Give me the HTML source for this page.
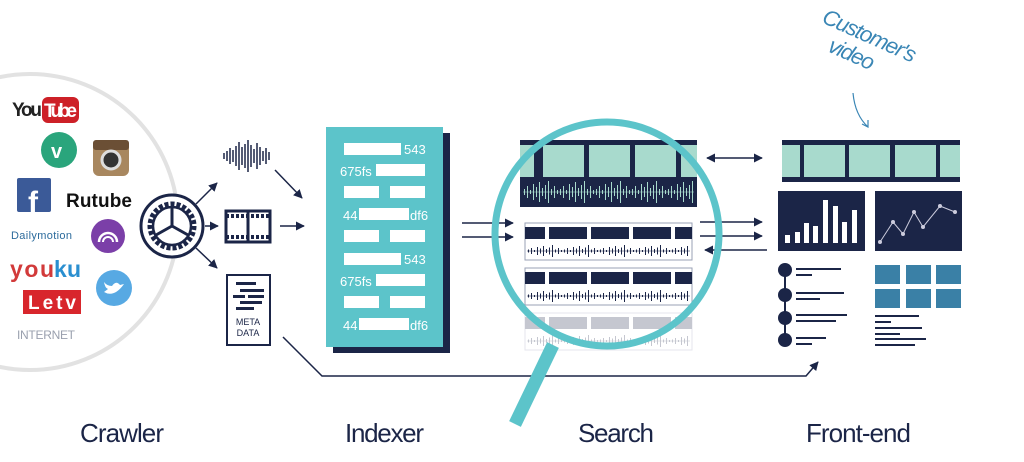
<!DOCTYPE html>
<html><head><meta charset="utf-8"><style>
html,body{margin:0;padding:0;background:#fff;}
svg{display:block;}
text{font-family:"Liberation Sans",sans-serif;}
</style></head><body>
<svg width="1024" height="462" viewBox="0 0 1024 462" xmlns="http://www.w3.org/2000/svg">
<defs>
<marker id="ah" viewBox="0 0 10 10" refX="9" refY="5" markerWidth="6" markerHeight="6" orient="auto-start-reverse"><path d="M0,0 L10,5 L0,10 z" fill="#1b2547"/></marker>
<pattern id="pa" patternUnits="userSpaceOnUse" x="523" y="180" width="36" height="24">
<line x1="0" y1="12" x2="36" y2="12" stroke="#a8dacd" stroke-width="0.6"/>
<path d="M1.5 9v6 M4.5 6v12 M7.5 10v4 M10.5 4v16 M13.5 7v10 M16.5 2v20 M19.5 8v8 M22.5 5v14 M25.5 1v22 M28.5 9v6 M31.5 6v12 M34.5 10v4" stroke="#a8dacd" stroke-width="1"/>
</pattern>
<pattern id="pb" patternUnits="userSpaceOnUse" x="527" y="243" width="36" height="16">
<line x1="0" y1="8" x2="36" y2="8" stroke="#1b2547" stroke-width="0.6"/>
<path d="M1.5 6.5v3 M4.5 5v6 M7.5 7v2 M10.5 4v8 M13.5 5.5v5 M16.5 3v10 M19.5 6v4 M22.5 4.5v7 M25.5 2v12 M28.5 6.5v3 M31.5 5v6 M34.5 7v2" stroke="#1b2547" stroke-width="1"/>
</pattern>
<pattern id="pc" patternUnits="userSpaceOnUse" x="527" y="288" width="36" height="16">
<line x1="0" y1="8" x2="36" y2="8" stroke="#1b2547" stroke-width="0.6"/>
<path d="M1.5 6.5v3 M4.5 5v6 M7.5 7v2 M10.5 4v8 M13.5 5.5v5 M16.5 3v10 M19.5 6v4 M22.5 4.5v7 M25.5 2v12 M28.5 6.5v3 M31.5 5v6 M34.5 7v2" stroke="#1b2547" stroke-width="1"/>
</pattern>
<pattern id="pd" patternUnits="userSpaceOnUse" x="527" y="333" width="36" height="16">
<line x1="0" y1="8" x2="36" y2="8" stroke="#1b2547" stroke-width="0.6"/>
<path d="M1.5 6.5v3 M4.5 5v6 M7.5 7v2 M10.5 4v8 M13.5 5.5v5 M16.5 3v10 M19.5 6v4 M22.5 4.5v7 M25.5 2v12 M28.5 6.5v3 M31.5 5v6 M34.5 7v2" stroke="#1b2547" stroke-width="1"/>
</pattern>
</defs>
<!-- internet circle -->
<circle cx="30" cy="222" r="148" fill="none" stroke="#e2e2e2" stroke-width="4"/>
<!-- logos -->
<text x="12" y="116" font-size="19" font-weight="bold" fill="#222" textLength="30">You</text>
<rect x="42" y="97" width="37" height="26" rx="6" fill="#cd2027"/>
<text x="44" y="117" font-size="19" font-weight="bold" fill="#fff" textLength="33">Tube</text>
<circle cx="59" cy="150" r="18" fill="#2aa57c"/><text x="51" y="158" font-size="20" font-weight="bold" fill="#fff">v</text>
<rect x="93" y="140" width="36" height="36" rx="6" fill="#a8875f"/><rect x="93" y="140" width="36" height="10" rx="3" fill="#6b4f35"/><circle cx="111" cy="160" r="9" fill="#333" stroke="#ddd" stroke-width="3"/>
<rect x="17" y="178" width="34" height="34" rx="2" fill="#3b5a98"/><text x="28" y="212" font-size="30" font-weight="bold" fill="#fff">f</text>
<text x="66" y="207" font-size="19" font-weight="bold" fill="#111" textLength="66">Rutube</text>
<text x="11" y="239" font-size="11" fill="#2c6b9c" textLength="61">Dailymotion</text>
<circle cx="108" cy="236" r="17" fill="#7b3fa8"/><path d="M99,242 a9,9 0 1 1 18,0" fill="none" stroke="#fff" stroke-width="2.5"/><path d="M103,242 a5,5 0 1 1 10,0" fill="none" stroke="#fff" stroke-width="2"/>
<text x="10" y="277" font-size="23" font-weight="bold" fill="#d23a3a" textLength="44">you</text><text x="54" y="277" font-size="23" font-weight="bold" fill="#2a8fd0" textLength="27">ku</text>
<circle cx="114" cy="288" r="18" fill="#57a9e3"/><path d="M104,292 q10,6 20,-8 l-4,1 q-4,-5 -8,1 q-5,0 -8,-4 q1,6 4,7 z" fill="#fff"/>
<rect x="23" y="290" width="58" height="24" fill="#d8262c"/><text x="28" y="309" font-size="19" font-weight="bold" fill="#fff" textLength="48">Letv</text>
<text x="17" y="339" font-size="12" fill="#9aa0ae" textLength="58">INTERNET</text>
<!-- gear -->
<circle cx="172" cy="226" r="31" fill="#fff" stroke="#1b2547" stroke-width="3"/>
<circle cx="172" cy="226" r="22" fill="none" stroke="#1b2547" stroke-width="5" stroke-dasharray="4 2"/>
<circle cx="172" cy="226" r="19" fill="none" stroke="#1b2547" stroke-width="2.5"/>
<path d="M172,226 L172,208 M172,226 L188,235 M172,226 L156,235" stroke="#1b2547" stroke-width="3"/>
<g stroke="#1b2547" stroke-width="1.5" fill="none" marker-end="url(#ah)">
<line x1="196" y1="204" x2="217" y2="183"/>
<line x1="205" y1="226" x2="218" y2="226"/>
<line x1="196" y1="248" x2="217" y2="268"/>
<line x1="275" y1="170" x2="302" y2="198"/>
<line x1="280" y1="226" x2="304" y2="226"/>
<polyline points="283,337 322,376 806,376 818,362"/>
<line x1="462" y1="223" x2="513" y2="223"/>
<line x1="462" y1="237" x2="513" y2="237"/>
<line x1="700" y1="222" x2="762" y2="222"/>
<line x1="700" y1="236" x2="762" y2="236"/>
<line x1="767" y1="250" x2="705" y2="250"/>
<line x1="707" y1="158" x2="762" y2="158" marker-start="url(#ah)"/>
</g>
<!-- audio icon -->
<path d="M224 153v6 M227 151v10 M230 148v16 M233 150v12 M236 146v20 M239 142v28 M242 147v18 M245 144v24 M248 140v32 M251 145v22 M254 149v14 M257 143v26 M260 147v18 M263 151v10 M266 148v16 M269 152v8" stroke="#1b2547" stroke-width="1.5"/>
<!-- film icon -->
<rect x="226" y="211" width="44" height="31" fill="none" stroke="#1b2547" stroke-width="3"/>
<line x1="226" y1="216" x2="270" y2="216" stroke="#1b2547" stroke-width="4" stroke-dasharray="3 2"/>
<line x1="226" y1="237" x2="270" y2="237" stroke="#1b2547" stroke-width="4" stroke-dasharray="3 2"/>
<line x1="248" y1="211" x2="248" y2="242" stroke="#1b2547" stroke-width="3"/>
<!-- metadata doc -->
<rect x="227" y="275" width="43" height="70" fill="#fff" stroke="#1b2547" stroke-width="2"/>
<g fill="#1b2547"><rect x="236" y="282" width="20" height="3"/><rect x="240" y="289" width="24" height="3"/><rect x="233" y="295" width="12" height="3"/><rect x="248" y="295" width="16" height="3"/><rect x="240" y="301" width="22" height="3"/><rect x="236" y="307" width="18" height="3"/></g>
<text x="248" y="325" font-size="9" fill="#1b2547" text-anchor="middle">META</text>
<text x="248" y="336" font-size="9" fill="#1b2547" text-anchor="middle">DATA</text>
<!-- indexer -->
<rect x="333" y="133" width="117" height="220" fill="#1b2547"/>
<rect x="326" y="127" width="117" height="220" fill="#5cc4ca"/>
<g fill="#fff" font-size="13">
<rect x="344" y="143" width="57" height="12"/><text x="404" y="154">543</text>
<text x="340" y="176">675fs</text><rect x="376" y="164" width="49" height="12"/>
<rect x="344" y="186" width="35" height="12"/><rect x="390" y="186" width="35" height="12"/>
<text x="343" y="220">44</text><rect x="359" y="208" width="50" height="12"/><text x="410" y="220">df6</text>
<rect x="344" y="230" width="35" height="12"/><rect x="390" y="230" width="35" height="12"/>
<rect x="344" y="253" width="57" height="12"/><text x="404" y="264">543</text>
<text x="340" y="286">675fs</text><rect x="376" y="274" width="49" height="12"/>
<rect x="344" y="296" width="35" height="12"/><rect x="390" y="296" width="35" height="12"/>
<text x="343" y="330">44</text><rect x="359" y="318" width="50" height="12"/><text x="410" y="330">df6</text>
</g>
<!-- search -->
<rect x="520" y="140" width="177" height="67" fill="#1b2547"/>
<g fill="#a8dacd"><rect x="520" y="145" width="14" height="32"/><rect x="543" y="145" width="41" height="32"/><rect x="589" y="145" width="41" height="32"/><rect x="635" y="145" width="41" height="32"/><rect x="681" y="145" width="16" height="32"/></g>
<rect x="523" y="180" width="171" height="24" fill="url(#pa)"/>
<g>
<rect x="525" y="223" width="167" height="37" fill="#fff" stroke="#9aa0b5"/>
<g fill="#1b2547"><rect x="525" y="227" width="20" height="12"/><rect x="549" y="227" width="38" height="12"/><rect x="591" y="227" width="38" height="12"/><rect x="633" y="227" width="38" height="12"/><rect x="675" y="227" width="17" height="12"/></g>
<rect x="527" y="243" width="163" height="16" fill="url(#pb)"/>
</g>
<g>
<rect x="525" y="268" width="167" height="37" fill="#fff" stroke="#9aa0b5"/>
<g fill="#1b2547"><rect x="525" y="272" width="20" height="12"/><rect x="549" y="272" width="38" height="12"/><rect x="591" y="272" width="38" height="12"/><rect x="633" y="272" width="38" height="12"/><rect x="675" y="272" width="17" height="12"/></g>
<rect x="527" y="288" width="163" height="16" fill="url(#pc)"/>
</g>
<g opacity="0.25">
<rect x="525" y="313" width="167" height="37" fill="#fff" stroke="#9aa0b5"/>
<g fill="#1b2547"><rect x="525" y="317" width="20" height="12"/><rect x="549" y="317" width="38" height="12"/><rect x="591" y="317" width="38" height="12"/><rect x="633" y="317" width="38" height="12"/><rect x="675" y="317" width="17" height="12"/></g>
<rect x="527" y="333" width="163" height="16" fill="url(#pd)"/>
</g>
<!-- magnifier -->
<line x1="553" y1="345" x2="515" y2="424" stroke="#5cc4ca" stroke-width="13"/>
<circle cx="607" cy="234" r="112" fill="none" stroke="#5cc4ca" stroke-width="7"/>
<!-- front-end -->
<rect x="782" y="140" width="178" height="42" fill="#1b2547"/>
<g fill="#a8dacd"><rect x="782" y="145" width="18" height="32"/><rect x="804" y="145" width="41" height="32"/><rect x="849" y="145" width="41" height="32"/><rect x="895" y="145" width="41" height="32"/><rect x="940" y="145" width="20" height="32"/></g>
<rect x="778" y="191" width="87" height="60" fill="#1b2547"/>
<g fill="#fff"><rect x="785" y="235" width="5" height="8"/><rect x="795" y="232" width="5" height="11"/><rect x="804" y="223" width="5" height="20"/><rect x="813" y="226" width="5" height="17"/><rect x="823" y="200" width="5" height="43"/><rect x="833" y="206" width="5" height="37"/><rect x="842" y="222" width="5" height="21"/><rect x="852" y="210" width="5" height="33"/></g>
<rect x="875" y="191" width="87" height="60" fill="#1b2547"/>
<polyline points="880,242 893,222 903,234 914,212 923,227 940,206 955,212" fill="none" stroke="#ccd" stroke-width="1"/>
<g fill="#ccd"><circle cx="880" cy="242" r="2"/><circle cx="893" cy="222" r="2"/><circle cx="903" cy="234" r="2"/><circle cx="914" cy="212" r="2"/><circle cx="923" cy="227" r="2"/><circle cx="940" cy="206" r="2"/><circle cx="955" cy="212" r="2"/></g>
<line x1="785" y1="270" x2="785" y2="340" stroke="#1b2547" stroke-width="2"/>
<g fill="#1b2547"><circle cx="785" cy="270" r="7"/><circle cx="785" cy="295" r="7"/><circle cx="785" cy="318" r="7"/><circle cx="785" cy="340" r="7"/>
<rect x="796" y="268" width="45" height="2"/><rect x="796" y="274" width="16" height="2"/><rect x="796" y="292" width="48" height="2"/><rect x="796" y="298" width="24" height="2"/><rect x="796" y="314" width="51" height="2"/><rect x="796" y="320" width="40" height="2"/><rect x="796" y="337" width="30" height="2"/><rect x="796" y="343" width="16" height="2"/>
<rect x="875" y="315" width="44" height="2"/><rect x="875" y="321" width="16" height="2"/><rect x="875" y="327" width="47" height="2"/><rect x="875" y="333" width="25" height="2"/><rect x="875" y="338" width="51" height="2"/><rect x="875" y="344" width="40" height="2"/></g>
<g fill="#3a80a6"><rect x="875" y="265" width="25" height="19"/><rect x="906" y="265" width="25" height="19"/><rect x="936" y="265" width="25" height="19"/><rect x="875" y="289" width="25" height="19"/><rect x="906" y="289" width="25" height="19"/><rect x="936" y="289" width="25" height="19"/></g>
<!-- customer's video -->
<g transform="rotate(24 860 45)" fill="#3a86b5" font-family="'Liberation Serif',serif" font-style="italic">
<text x="815" y="40" font-size="22" textLength="100">Customer's</text>
<text x="832" y="64" font-size="22" textLength="48">video</text>
</g>
<path d="M853,93 Q855,115 868,127" fill="none" stroke="#3a86b5" stroke-width="1.2"/>
<path d="M862,124 L868,127 L868,120" fill="none" stroke="#3a86b5" stroke-width="1.2"/>
<!-- labels -->
<g fill="#1b2547" font-size="26" font-family="'Liberation Sans Narrow','Liberation Sans',sans-serif">
<text x="80" y="442" textLength="84">Crawler</text>
<text x="345" y="442" textLength="79">Indexer</text>
<text x="578" y="442" textLength="76">Search</text>
<text x="806" y="442" textLength="105">Front-end</text>
</g>
</svg>
</body></html>
